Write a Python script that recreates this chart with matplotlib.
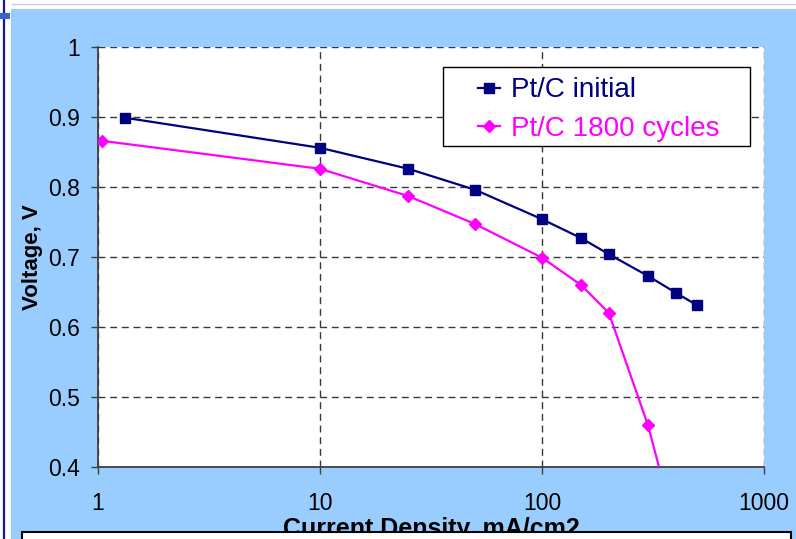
import matplotlib.pyplot as plt
from matplotlib.patches import Rectangle
from matplotlib.lines import Line2D
from matplotlib.ticker import NullLocator

plt.rcParams['font.family'] = ['Liberation Sans', 'DejaVu Sans']

# current density (mA/cm2) and voltage (V)
init_x = [1.32, 10, 25, 50, 100, 150, 200, 300, 400, 500]
init_v = [0.899, 0.856, 0.826, 0.796, 0.754, 0.727, 0.704, 0.673, 0.649, 0.631]
cyc_x = [1.04, 10, 25, 50, 100, 150, 200, 300, 400]
cyc_v = [0.866, 0.826, 0.787, 0.747, 0.699, 0.660, 0.620, 0.460, 0.31]

xticks = [1, 10, 100, 1000]
xlabels = ['1', '10', '100', '1000']
yticks = [0.4, 0.5, 0.6, 0.7, 0.8, 0.9, 1.0]
ylabels = ['0.4', '0.5', '0.6', '0.7', '0.8', '0.9', '1']

W, H = 796, 539
fig = plt.figure(figsize=(W / 100, H / 100), dpi=100)
fig.patch.set_facecolor('white')

# light blue chart area and the slide decorations round it
fig.patches.append(Rectangle((11 / W, 0), 1, 1 - 9 / H, transform=fig.transFigure,
                             facecolor='#99CCFF', edgecolor='none', zorder=-1))
fig.lines.append(Line2D([4 / W, 4 / W], [0, 1], transform=fig.transFigure,
                        color='#1a1a8c', lw=1.6))
fig.lines.append(Line2D([12 / W, 1], [1 - 4 / H, 1 - 4 / H], transform=fig.transFigure,
                        color='#c8c8e6', lw=1))
fig.patches.append(Rectangle((0, 1 - 19 / H), 10 / W, 6 / H, transform=fig.transFigure,
                             facecolor='#3366cc', edgecolor='none', zorder=2))

ax = fig.add_axes([98 / W, 72 / H, 666 / W, 420 / H])
ax.set_facecolor('white')
ax.set_xscale('log')
ax.set_xlim(1, 1000)
ax.set_ylim(0.4, 1.0)

ax.plot(init_x, init_v, color='#000080', lw=1.6, marker='s', ms=7.5,
        label='Pt/C initial', zorder=3)
ax.plot(cyc_x, cyc_v, color='#FF00FF', lw=1.6, marker='D', ms=6.5,
        label='Pt/C 1800 cycles', zorder=3)

ax.set_xticks(xticks)
ax.set_xticklabels(xlabels)
ax.xaxis.set_minor_locator(NullLocator())
ax.set_yticks(yticks)
ax.set_yticklabels(ylabels)
ax.tick_params(axis='both', direction='out', length=5, width=1, color='#404040',
               labelsize=16.5)
ax.tick_params(axis='x', pad=13)
ax.tick_params(axis='y', pad=8)

ax.grid(True, color='#383838', lw=1, linestyle=(0, (5, 3.4)))
for side in ['top', 'right']:
    ax.spines[side].set_visible(False)
for side in ['left', 'bottom']:
    ax.spines[side].set_color('#404040')
    ax.spines[side].set_linewidth(1.3)

ax.set_ylabel('Voltage, V', fontsize=16, fontweight='bold', labelpad=4)
ax.set_xlabel('Current Density, mA/cm2', fontsize=18, fontweight='bold', labelpad=1.5)

# legend box drawn separately so its padding can match
ax.add_patch(Rectangle((0.518, 0.764), 0.461, 0.188, transform=ax.transAxes,
                       facecolor='white', edgecolor='black', lw=1, zorder=4))
leg = ax.legend(loc='upper left', bbox_to_anchor=(0.5706, 0.928), borderaxespad=0,
                fontsize=20, frameon=False, handlelength=0.8, handletextpad=0.4,
                labelspacing=0.45, borderpad=0, labelcolor='linecolor')
leg.set_zorder(5)

# white text box at the foot of the slide, covering part of the x label
fig.patches.append(Rectangle((22 / W, -0.02), (791 - 22) / W, (539 - 532) / H + 0.02,
                             transform=fig.transFigure, facecolor='white',
                             edgecolor='black', lw=1.5, zorder=10))

fig.savefig('out.png', dpi=100)
